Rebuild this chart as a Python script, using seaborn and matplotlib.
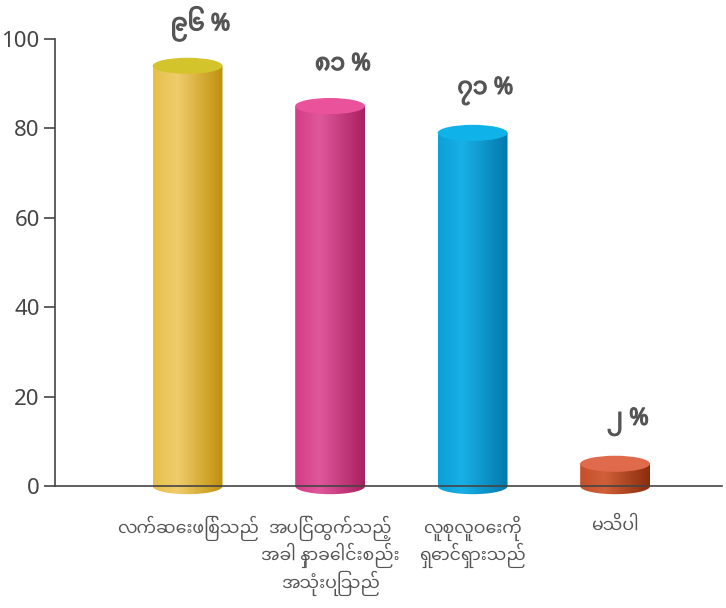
import numpy as np
import pandas as pd
import seaborn as sns
import matplotlib.pyplot as plt
import matplotlib.patheffects as pe
from matplotlib.path import Path
from matplotlib.patches import PathPatch, Ellipse
from matplotlib.colors import LinearSegmentedColormap

# data
categories = ["လက်ဆေးဖြစ်သည်",
              "အပြင်ထွက်သည့်\nအခါ နှာခေါင်းစည်း\nအသုံးပြုသည်",
              "လူစုလူဝေးကို\nရှောင်ရှားသည်",
              "မသိပါ"]
values = [94, 85, 79, 5]
value_labels = ["၉၆ %", "၈၁ %", "၇၁ %", "၂ %"]
y_ticks = [0, 20, 40, 60, 80, 100]

# side gradient (left, highlight, right) and top colour of each cylinder
side_colors = [("#e6c04a", "#f0cc6c", "#c0900a"),
               ("#d43c86", "#e0579c", "#a8205e"),
               ("#0ca0d8", "#18b0e6", "#0478ac"),
               ("#c4502c", "#d0603a", "#8a2c0c")]
top_colors = ["#d2c42a", "#ea529c", "#10b2ea", "#e06a4c"]

sns.set_style("white")
plt.rcParams['font.family'] = ['Noto Sans Myanmar', 'Noto Sans', 'DejaVu Sans']

fig, ax = plt.subplots(figsize=(7.26, 6.08), dpi=100)
fig.subplots_adjust(left=0.0758, right=0.9945, bottom=0.171, top=0.9359)

df = pd.DataFrame({"cat": categories, "val": values})
sns.barplot(data=df, x="cat", y="val", ax=ax, width=0.49, color="#cccccc")

eh = 3.6  # ellipse height in data units
grad = np.linspace(0, 1, 256).reshape(1, -1)
for p, sc, tc, lab in zip(ax.patches, side_colors, top_colors, value_labels):
    x0, w, h = p.get_x(), p.get_width(), p.get_height()
    cx = x0 + w / 2
    p.set_visible(False)
    t = np.linspace(0, np.pi, 40)
    arc = np.column_stack([cx + w / 2 * np.cos(t), -eh / 2 * np.sin(t)])
    verts = np.vstack([[x0, h], [x0 + w, h], arc, [x0, h]])
    clip = PathPatch(Path(verts), transform=ax.transData, facecolor="none", edgecolor="none")
    ax.add_patch(clip)
    cmap = LinearSegmentedColormap.from_list("c", [(0, sc[0]), (0.35, sc[1]), (1, sc[2])])
    img = ax.imshow(grad, extent=[x0, x0 + w, -eh, h], aspect="auto", cmap=cmap, zorder=2)
    img.set_clip_path(clip)
    ax.add_patch(Ellipse((cx, h), w, eh, facecolor=tc, edgecolor="none", zorder=3))
    ax.text(cx + 0.09, h + 9.4, lab, ha="center", va="center", fontsize=17,
            fontweight="bold", color="#555555", clip_on=False, zorder=5,
            path_effects=[pe.withStroke(linewidth=0.9, foreground="#555555")])

ax.set_xlim(-0.93, 3.75)
ax.set_ylim(-4, 100)
ax.set_aspect("auto")
ax.set_yticks(y_ticks)
ax.set_xlabel("")
ax.set_ylabel("")

sns.despine(ax=ax)
ax.spines["bottom"].set_position(("data", 0))
ax.spines["left"].set_bounds(0, 100)
for s in ("left", "bottom"):
    ax.spines[s].set_color("#444444")
    ax.spines[s].set_linewidth(1.2)
    ax.spines[s].set_zorder(4)

ax.tick_params(axis="y", length=8, width=1.2, color="#444444", labelsize=16,
               labelcolor="#444444", pad=3, left=True)
ax.tick_params(axis="x", length=0, labelsize=12.5, labelcolor="#555555", pad=21)
for lbl in ax.get_xticklabels():
    lbl.set_linespacing(1.15)

fig.savefig("out.png", dpi=100)
